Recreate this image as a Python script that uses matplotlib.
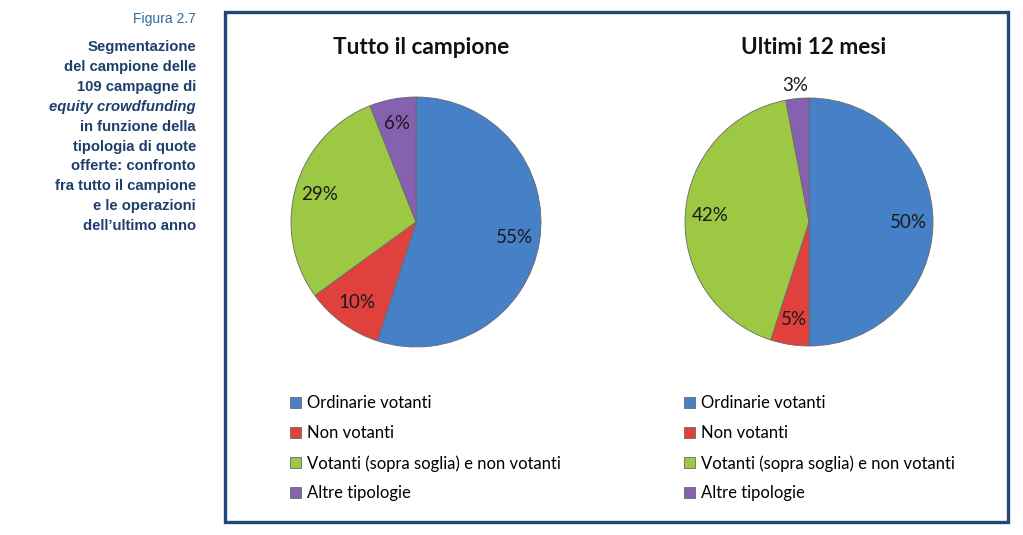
import matplotlib
matplotlib.use("Agg")
import matplotlib.pyplot as plt
from matplotlib.patches import Rectangle

# Data
categories = ['Ordinarie votanti', 'Non votanti',
              'Votanti (sopra soglia) e non votanti', 'Altre tipologie']
tutto = [55, 10, 29, 6]
ultimi = [50, 5, 42, 3]
titles = ['Tutto il campione', 'Ultimi 12 mesi']
colors = ['#4680C6', '#E0413C', '#9DC844', '#8661B0']

caption_head = 'Figura 2.7'
caption_lines = ['Segmentazione', 'del campione delle', '109 campagne di',
                 'equity crowdfunding', 'in funzione della', 'tipologia di quote',
                 'offerte: confronto', 'fra tutto il campione', 'e le operazioni',
                 'dell\u2019ultimo anno']

W, H = 1023, 535
fig = plt.figure(figsize=(W / 100, H / 100), dpi=100)


def fx(px):
    return px / W


def fy(py):
    return 1 - py / H


# Caption on the left
fig.text(fx(196), fy(19), caption_head, ha='right', va='center',
         fontsize=10, color='#2F6AA6', family='Liberation Sans')
for i, line in enumerate(caption_lines):
    fig.text(fx(196), fy(47 + i * 19.9), line, ha='right', va='center',
             fontsize=10.7, color='#1C3F6B', family='Liberation Sans',
             fontweight='bold', style='italic' if i == 3 else 'normal')

# Frame
fig.patches.append(Rectangle((fx(225), fy(522)), fx(1008) - fx(225),
                             fy(12) - fy(522), transform=fig.transFigure,
                             fill=False, edgecolor='#1F4A78', linewidth=2.4))

pies = [(tutto, (416, 222, 125), 290), (ultimi, (809, 222, 124), 684)]
for k, (vals, (cx, cy, r), legx) in enumerate(pies):
    ax = fig.add_axes([fx(cx - r), fy(cy + r), fx(2 * r), fy(cy - r) - fy(cy + r)])
    wedges, texts, autotexts = ax.pie(
        vals, colors=colors, startangle=90, counterclock=False,
        autopct='%.0f%%', pctdistance=0.8,
        wedgeprops=dict(edgecolor='#6a6a6a', linewidth=0.6),
        textprops=dict(fontsize=13.5, color='#1a1a1a', family='Lato'))
    ax.set_xlim(-1, 1)
    ax.set_ylim(-1, 1)
    if k == 1:
        # small slice label sits above the pie
        autotexts[3].set_position((-0.11, 1.1))
    fig.text(fx(cx + 5), fy(48), titles[k], ha='center', va='center',
             fontsize=16.3, fontweight='bold', family='Lato', color='#111111')
    fig.legend(wedges, categories, loc='upper left',
               bbox_to_anchor=(fx(legx - 8), fy(387)), frameon=False,
               handlelength=0.65, handleheight=0.65,
               handletextpad=0.35, labelspacing=0.83, borderpad=0,
               prop=dict(family='Lato', size=12))

fig.savefig('out.png', dpi=100)
